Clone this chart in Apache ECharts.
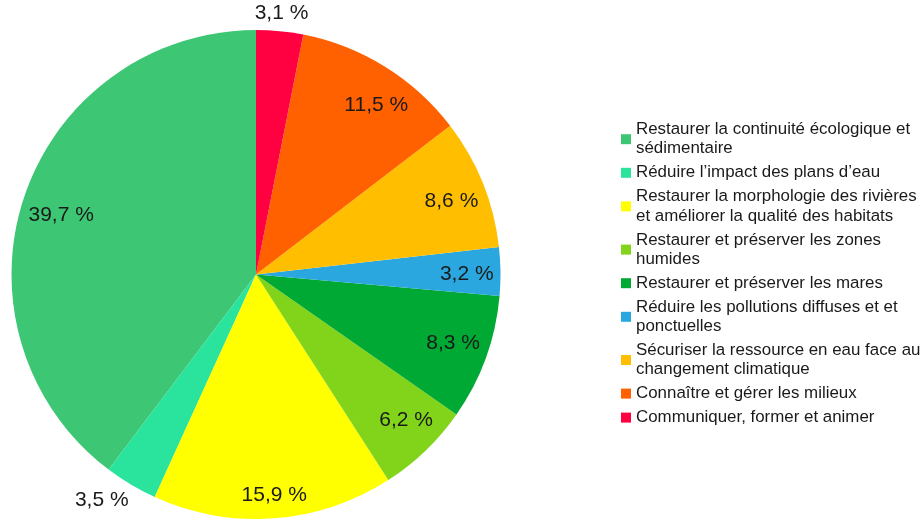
<!DOCTYPE html>
<html>
<head>
<meta charset="utf-8">
<script src="https://cdn.jsdelivr.net/npm/echarts@6/dist/echarts.min.js"></script>
<style>
  html, body { margin: 0; padding: 0; background: #fff; }
  #main { width: 923px; height: 520px; }
</style>
</head>
<body>
<div id="main"></div>
<script>
var categories = [
  'Restaurer la continuité écologique et sédimentaire',
  'Réduire l’impact des plans d’eau',
  'Restaurer la morphologie des rivières et améliorer la qualité des habitats',
  'Restaurer et préserver les zones humides',
  'Restaurer et préserver les mares',
  'Réduire les pollutions diffuses et et ponctuelles',
  'Sécuriser la ressource en eau face au changement climatique',
  'Connaître et gérer les milieux',
  'Communiquer, former et animer'
];
var shares = [39.7, 3.5, 15.9, 6.2, 8.3, 3.2, 8.6, 11.5, 3.1];
var colors = ['#3dc673', '#2ae39c', '#ffff00', '#81d41a', '#00a933', '#2aa7df', '#ffbf00', '#ff6000', '#ff0040'];

// slices whose percentage is written outside the pie
var outside = [1, 8];
// small per-label nudges (px) to follow the original label placement
var labelNudge = [[5, 8], [-20, 0], [3, 11], [4, -6], [-1, -3], [0, 2], [0, 6], [9, 10], [0, 0]];

var FONT = 'Liberation Sans, Arial, sans-serif';
var LEGEND_SIZE = 16.9;
var cx = 256, cy = 274.5, R = 244.5;

function pct(p) {
  return p.value.toFixed(1).replace('.', ',') + ' %';
}

// word wrap for the legend, so that no line starts with a space
var measure = document.createElement('canvas').getContext('2d');
measure.font = LEGEND_SIZE + 'px "Liberation Sans"';
function wrap(text, maxW) {
  var words = text.split(' ');
  var lines = [];
  var cur = '';
  words.forEach(function (w) {
    var test = cur ? cur + ' ' + w : w;
    if (cur && measure.measureText(test).width > maxW) {
      lines.push(cur);
      cur = w;
    } else {
      cur = test;
    }
  });
  lines.push(cur);
  return lines.join('\n');
}

function items(showOutside) {
  return categories.map(function (n, i) {
    var isOut = outside.indexOf(i) >= 0;
    return { name: n, value: shares[i], label: { show: isOut === showOutside } };
  });
}

function nudge(p) {
  var d = labelNudge[p.dataIndex];
  return { dx: d[0], dy: d[1] };
}

var labelStyle = {
  position: 'inside',
  formatter: pct,
  fontFamily: FONT,
  fontSize: 21,
  color: '#1a1a1a'
};

var myChart = echarts.init(document.getElementById('main'));

var option = {
  animation: false,
  backgroundColor: '#fff',
  color: colors,
  legend: {
    orient: 'vertical',
    left: 621,
    top: 120,
    padding: 0,
    itemWidth: 10,
    itemHeight: 10,
    itemGap: 4.8,
    icon: 'rect',
    selectedMode: false,
    data: categories,
    formatter: function (name) { return wrap(name, 290); },
    textStyle: {
      fontFamily: FONT,
      fontSize: LEGEND_SIZE,
      lineHeight: 19.2,
      color: '#1a1a1a'
    }
  },
  series: [
    {
      type: 'pie',
      center: [cx, cy],
      radius: [0, R],
      startAngle: 90,
      clockwise: false,
      silent: true,
      itemStyle: { borderWidth: 0 },
      label: { show: false },
      labelLine: { show: false },
      data: categories.map(function (n, i) { return { name: n, value: shares[i] }; })
    },
    {
      // labels inside the slices
      type: 'pie',
      center: [cx, cy],
      radius: [171, R],
      startAngle: 90,
      clockwise: false,
      silent: true,
      itemStyle: { color: 'rgba(0,0,0,0)', borderWidth: 0 },
      label: labelStyle,
      labelLine: { show: false },
      labelLayout: nudge,
      data: items(false)
    },
    {
      // labels just outside the pie
      type: 'pie',
      center: [cx, cy],
      radius: [R, 274],
      startAngle: 90,
      clockwise: false,
      silent: true,
      itemStyle: { color: 'rgba(0,0,0,0)', borderWidth: 0 },
      label: labelStyle,
      labelLine: { show: false },
      labelLayout: nudge,
      data: items(true)
    }
  ]
};

myChart.setOption(option);
</script>
</body>
</html>
